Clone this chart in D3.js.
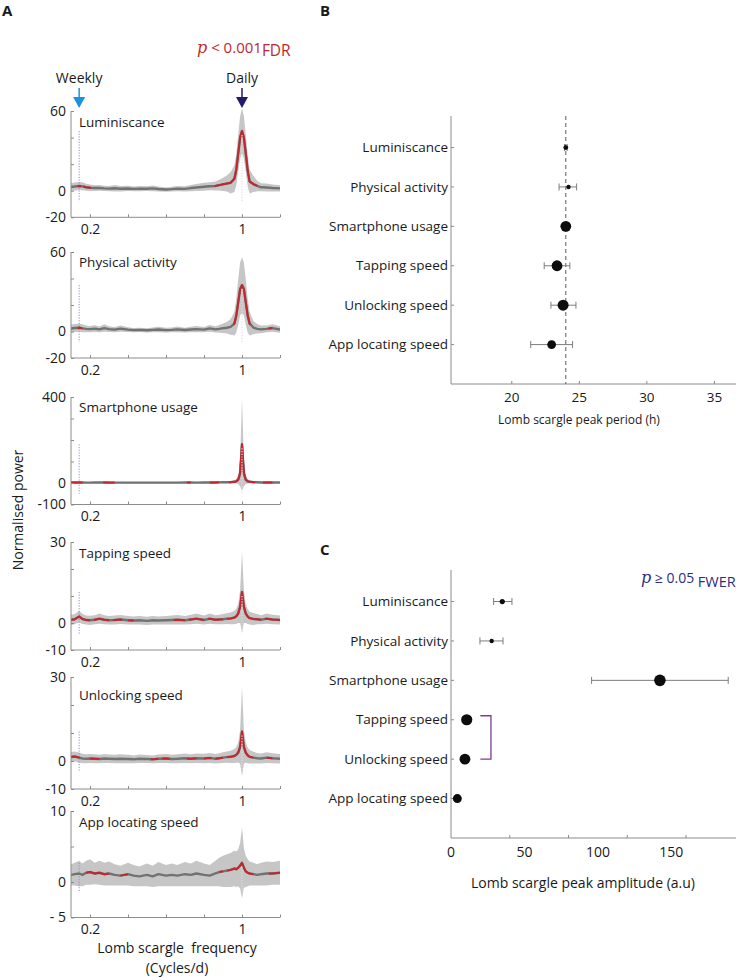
<!DOCTYPE html>
<html><head><meta charset="utf-8">
<script src="https://cdn.jsdelivr.net/npm/d3@7"></script>
<style>body{margin:0;background:#fff} text{font-family:'Open Sans',sans-serif;fill:#1a1a1a;white-space:pre}</style>
</head><body><svg id="c" width="736" height="977"></svg>
<script>
// ---------------- DATA ----------------
const freq = [0.10,0.12,0.143,0.16,0.18,0.20,0.225,0.25,0.275,0.30,0.33,0.36,0.40,0.43,0.46,0.50,0.53,0.56,0.60,0.63,0.66,0.70,0.73,0.76,0.80,0.83,0.86,0.88,0.90,0.92,0.94,0.96,0.97,0.98,0.99,1.00,1.01,1.02,1.03,1.04,1.06,1.08,1.10,1.13,1.16,1.20];

const seriesNames = ["Luminiscance","Physical activity","Smartphone usage","Tapping speed","Unlocking speed","App locating speed"];

const lumMean = [2.8,3.2,3.6,3.3,2.6,2.2,2.0,2.1,1.8,1.6,1.9,1.5,1.7,1.4,1.6,1.5,1.8,1.3,0.9,1.2,1.6,1.4,2.0,2.4,3.0,3.4,3.6,4.2,4.8,5.4,6.0,9,16,28,40,45,40,28,15,7,5,3.6,2.6,2.4,2.0,1.8];
const lumHW   = [3,3,3,3,2.6,2.4,2.2,2.2,2.0,2.0,2.4,2.0,2.0,1.8,2.0,1.8,2.2,1.8,1.6,1.8,2.0,2.0,2.4,2.6,3,3,3.4,4,5,6,8,10,12,14,16,17,16,14,12,9,6,4,3,3,2.6,2.4];
const lumSig  = [[0.135,0.155],[0.165,0.205],[0.855,1.08]];

const actMean = [2.2,2.6,2.8,2.4,2.0,1.8,2.2,1.6,2.6,1.8,1.4,2.2,1.4,1.0,1.2,0.9,1.2,1.5,1.0,1.2,1.6,1.1,1.5,1.8,1.4,2.4,1.6,2.0,2.5,2.8,3.5,6,12,22,32,35,32,22,12,6,3,2,1.6,2.0,2.6,1.5];
const actHW   = [3,3,3,3,2.6,2.4,2.6,2.2,2.8,2.2,2,2.4,1.8,1.6,1.6,1.6,1.8,2,1.8,1.8,2.2,1.8,2,2.4,2,2.6,2.4,3,3.6,4.4,6,9,13,17,20,21,20,17,13,9,5,3.6,3,2.6,2.8,2.4];
const actSig  = [[0.135,0.16],[0.955,1.045],[1.14,1.16]];

const useMean = [2.2,2.0,2.4,2.1,1.9,1.8,2.0,2.2,2.3,1.9,1.8,1.7,1.9,1.6,1.8,1.7,1.6,1.8,1.9,1.7,1.8,2.0,2.1,1.9,2.2,2.4,2.6,3.0,3.4,3.8,4.0,5.5,8,15,45,180,45,15,8,5.5,4,3.2,2.6,2.4,2.6,2.2];
const useHW   = [3.2,3.0,3.4,3.1,2.9,2.8,3.0,3.2,3.1,2.9,2.8,2.7,2.9,2.6,2.8,2.7,2.6,2.8,2.9,2.7,2.8,3.0,3.1,2.9,3.2,3.4,3.6,3.8,4,4.5,5,7,10,20,60,215,60,20,10,7,5,4,3.6,3.4,3.2,3.0];
const useSig  = [[0.10,0.16],[0.27,0.33],[0.71,0.73],[0.83,0.88],[0.93,1.07],[1.11,1.16]];

const tapMean = [1.2,1.4,2.4,1.5,1.1,1.0,1.2,1.6,1.2,1.0,1.1,1.3,1.0,0.9,1.0,0.8,1.0,0.9,1.0,1.1,1.2,1.0,1.3,1.6,1.1,1.6,1.2,1.3,1.4,1.6,1.7,2.0,2.5,3.5,6,11.5,6,3.5,2.4,1.8,1.5,1.4,1.2,1.6,1.3,1.1];
const tapHW   = [1.9,1.9,2.1,1.9,1.7,1.7,1.7,1.9,1.7,1.6,1.7,1.7,1.6,1.5,1.6,1.5,1.6,1.5,1.6,1.7,1.8,1.6,1.8,1.9,1.7,1.9,1.7,1.8,1.9,2.0,2.2,2.5,2.8,3.5,6,15,6,3.5,2.8,2.4,2.2,1.9,1.7,1.9,1.8,1.7];
const tapSig  = [[0.10,0.20],[0.22,0.30],[0.32,0.37],[0.40,0.43],[0.64,0.70],[0.72,0.80],[0.82,0.90],[0.92,1.10],[1.12,1.20]];

const unlMean = [1.4,1.6,1.2,0.9,0.8,0.9,0.8,0.7,0.9,0.8,0.7,0.8,0.7,0.6,0.8,0.7,0.6,0.8,0.9,0.7,0.8,1.0,0.8,1.0,0.9,1.1,0.8,1.0,1.2,1.4,1.5,1.8,2.2,3.0,5,10.5,5,3.0,2.0,1.5,1.2,1.0,0.9,1.2,1.0,0.8];
const unlHW   = [1.8,1.8,1.8,1.7,1.6,1.6,1.6,1.5,1.6,1.5,1.5,1.6,1.5,1.4,1.5,1.4,1.4,1.5,1.6,1.5,1.6,1.7,1.6,1.7,1.7,1.8,1.7,1.8,1.9,2.0,2.2,2.5,2.8,3.5,6,16,6,3.5,2.8,2.4,2.1,1.9,1.8,1.9,1.8,1.7];
const unlSig  = [[0.10,0.145],[0.20,0.25],[0.52,0.56],[0.58,0.62],[0.71,0.76],[0.80,0.84],[0.86,0.90],[0.92,1.06],[1.13,1.16]];

const appMean = [1.0,1.1,1.2,1.0,1.3,1.4,1.2,1.3,1.1,1.2,1.0,0.9,1.1,0.9,0.8,1.0,0.8,1.1,0.9,1.0,0.9,1.1,1.0,1.2,1.0,0.9,1.2,1.4,1.5,1.6,1.7,1.9,1.8,2.0,2.3,2.7,2.0,1.5,1.3,1.2,1.1,1.0,1.1,1.2,1.2,1.3];
const appHW   = [1.5,1.6,1.8,1.6,1.7,1.8,1.5,1.7,1.6,1.7,1.5,1.4,1.6,1.5,1.4,1.6,1.5,1.7,1.5,1.6,1.5,1.7,1.6,1.8,1.6,1.5,1.8,2.0,2.2,2.3,2.4,2.5,2.5,2.6,3.2,5.0,2.8,2.2,1.9,1.7,1.6,1.5,1.6,1.7,1.6,1.7];
const appSig  = [[0.18,0.30],[0.36,0.40],[0.88,0.90],[0.92,1.06],[1.14,1.20]];

const seriesMean = [lumMean, actMean, useMean, tapMean, unlMean, appMean];
const seriesHW   = [lumHW, actHW, useHW, tapHW, unlHW, appHW];
const seriesSig  = [lumSig, actSig, useSig, tapSig, unlSig, appSig];

const yDomains = [[-20,60],[-20,60],[-100,400],[-10,30],[-10,30],[-5,10]];
const yTickValues = [[-20,0,20,40,60],[-20,0,20,40,60],[-100,0,100,200,300,400],[-10,0,10,20,30],[-10,0,10,20,30],[-5,0,5,10]];
const yTickLabels = [["-20","0","","","60"],["-20","0","","","60"],["-100","0","","","","400"],["-10","0","","","30"],["-10","0","","","30"],["- 5","0","","10"]];
const xTickValues = [0.2,0.4,0.6,0.8,1.0,1.2];
const xTickLabels = ["0.2","","","","1",""];
const weeklyFreq = 1/7, dailyFreq = 1;

const periodMean = [24.0,24.2,24.0,23.35,23.8,22.95];
const periodLo   = [23.9,23.5,23.95,22.4,22.9,21.4];
const periodHi   = [24.1,24.8,24.05,24.3,24.75,24.5];
const periodTicks = [20,25,30,35];
const periodRef = 24;

const ampMean = [34.9,27.7,142.2,10.7,9.5,4.3];
const ampLo   = [29.0,19.7,95.7,10.7,9.5,4.3];
const ampHi   = [41.5,35.4,188.7,10.7,9.5,4.3];
const ampTickLabels = [0,50,100,150];
const ampTickMarks = [40,80,120,160];

// ---------------- STYLE / LAYOUT ----------------
const AX = "#8c8c8c";
const BAND = "#c6c6c6", MEAN = "#727272", RED = "#c1272d";
const svg = d3.select("#c");

// Panel A
const xA = d3.scaleLinear().domain([0.1,1.2]).range([71,280]);
const aRanges = [[217.3,111],[358,252],[504.5,397],[650,542],[789,677],[917.5,811]];
const titleBase = [126.5,267,411.5,557.5,699.5,826.5];

svg.append("text").attr("x",2).attr("y",16).attr("font-weight","bold").attr("font-size",15).text("A");
svg.append("text").attr("x",320).attr("y",16).attr("font-weight","bold").attr("font-size",15).text("B");
svg.append("text").attr("x",320).attr("y",555).attr("font-weight","bold").attr("font-size",15).text("C");

// header p-value
const ph = svg.append("text").attr("x",197).attr("y",53).style("fill",RED);
ph.append("tspan").attr("font-family","'DejaVu Serif',serif").attr("font-style","italic").attr("font-size",16).style("fill",RED).text("p");
ph.append("tspan").attr("font-size",15).style("fill",RED).text(" < 0.001");
ph.append("tspan").attr("font-size",15.5).attr("dy",3).style("fill",RED).text("FDR");

// arrows
function arrow(x, col, label){
  svg.append("text").attr("x",x).attr("y",83).attr("text-anchor","middle").attr("font-size",14).text(label);
  svg.append("line").attr("x1",x).attr("x2",x).attr("y1",88).attr("y2",98).attr("stroke",col).attr("stroke-width",1.5);
  svg.append("path").attr("d",`M${x-6},97 L${x+6},97 L${x},108 Z`).attr("fill",col);
}
arrow(xA(weeklyFreq), "#1b93dc", "Weekly");
arrow(xA(dailyFreq), "#241a6b", "Daily");

seriesNames.forEach((name,k)=>{
  const y = d3.scaleLinear().domain(yDomains[k]).range(aRanges[k]);
  const mean = seriesMean[k], hw = seriesHW[k];
  const g = svg.append("g");
  const cid = "clipA"+k;
  svg.append("clipPath").attr("id",cid).append("rect")
     .attr("x",xA.range()[0]).attr("width",xA.range()[1]-xA.range()[0])
     .attr("y",aRanges[k][1]-2).attr("height",aRanges[k][0]-aRanges[k][1]+2);
  const pl = g.append("g").attr("clip-path",`url(#${cid})`);
  const pts = freq.map((f,i)=>({f, m:mean[i], lo:mean[i]-hw[i], hi:mean[i]+hw[i]}));
  pl.append("path").datum(pts).attr("fill",BAND)
    .attr("d", d3.area().x(d=>xA(d.f)).y0(d=>y(d.lo)).y1(d=>y(d.hi)));
  const peak = d3.max(mean);
  const dotBottom = -0.1*(yDomains[k][1]-yDomains[k][0]);
  pl.append("line").attr("x1",xA(weeklyFreq)).attr("x2",xA(weeklyFreq)).attr("y1",y(peak)).attr("y2",y(dotBottom))
    .attr("stroke","#8c8cd2").attr("stroke-width",1).attr("stroke-dasharray","1.2,1.5");
  pl.append("path").datum(pts).attr("fill","none").attr("stroke",MEAN).attr("stroke-width",2.4)
    .attr("stroke-linejoin","round").attr("d", d3.line().x(d=>xA(d.f)).y(d=>y(d.m)));
  const interp = d3.scaleLinear().domain(freq).range(mean);
  seriesSig[k].forEach(([a,b])=>{
    const sp = [[a,interp(a)]];
    freq.forEach((f,i)=>{ if(f>a && f<b) sp.push([f,mean[i]]); });
    sp.push([b,interp(b)]);
    pl.append("path").datum(sp).attr("fill","none").attr("stroke",RED).attr("stroke-width",2)
      .attr("stroke-linejoin","round").attr("d", d3.line().x(d=>xA(d[0])).y(d=>y(d[1])));
  });
  pl.append("line").attr("x1",xA(dailyFreq)).attr("x2",xA(dailyFreq)).attr("y1",y(peak)+4).attr("y2",y(dotBottom))
    .attr("stroke","#dedede").attr("stroke-width",1.2).attr("stroke-dasharray","1.2,1.5");
  const yAxis = d3.axisLeft(y).tickValues(yTickValues[k]).tickSize(-3).tickPadding(5)
    .tickFormat((d,i)=>yTickLabels[k][i]);
  const ga = g.append("g").attr("transform",`translate(${xA.range()[0]},0)`).call(yAxis);
  ga.select(".domain").attr("stroke",AX).attr("d",`M0,${aRanges[k][0]}V${aRanges[k][1]}`);
  ga.selectAll(".tick line").attr("stroke",AX);
  ga.selectAll(".tick text").attr("font-size",14).attr("font-family","'Open Sans',sans-serif").style("fill","#1a1a1a");
  const xAxis = d3.axisBottom(xA).tickValues(xTickValues).tickSize(-3).tickPadding(7)
    .tickFormat((d,i)=>xTickLabels[i]);
  const gx = g.append("g").attr("transform",`translate(0,${aRanges[k][0]})`).call(xAxis);
  gx.select(".domain").attr("stroke",AX).attr("d",`M${xA.range()[0]},0H${xA.range()[1]}`);
  gx.selectAll(".tick line").attr("stroke",AX);
  gx.selectAll(".tick text").attr("font-size",14).attr("font-family","'Open Sans',sans-serif").style("fill","#1a1a1a");
  g.append("text").attr("x",79).attr("y",titleBase[k]).attr("font-size",13.5).text(name);
});

svg.append("text").attr("transform","translate(23,510) rotate(-90)").attr("text-anchor","middle").attr("font-size",14).text("Normalised power");
svg.append("text").attr("x",177).attr("y",953).attr("text-anchor","middle").attr("font-size",14).text("Lomb scargle  frequency");
svg.append("text").attr("x",177).attr("y",973).attr("text-anchor","middle").attr("font-size",14).text("(Cycles/d)");

// Panels B and C
function dotPanel(opts){
  const {x, top, bottom, mean, lo, hi, radii} = opts;
  const y = d3.scaleLinear().domain([0.2,7]).range([top,bottom]);
  const g = svg.append("g");
  g.append("line").attr("x1",451).attr("x2",451).attr("y1",top).attr("y2",bottom).attr("stroke",AX);
  g.append("line").attr("x1",451).attr("x2",736).attr("y1",bottom).attr("y2",bottom).attr("stroke",AX);
  seriesNames.forEach((n,i)=>{
    const yy = y(i+1);
    g.append("line").attr("x1",451).attr("x2",454).attr("y1",yy).attr("y2",yy).attr("stroke",AX);
    g.append("text").attr("x",448).attr("y",yy).attr("dy","0.35em").attr("text-anchor","end").attr("font-size",13.5).text(n);
  });
  if(opts.extra) opts.extra(g,x,y);
  seriesNames.forEach((n,i)=>{
    const yy = y(i+1);
    if(hi[i]-lo[i] > 0.15){
      g.append("line").attr("x1",x(lo[i])).attr("x2",x(hi[i])).attr("y1",yy).attr("y2",yy).attr("stroke","#7d7d7d").attr("stroke-width",1);
      [lo[i],hi[i]].forEach(v=>g.append("line").attr("x1",x(v)).attr("x2",x(v)).attr("y1",yy-3.5).attr("y2",yy+3.5).attr("stroke","#7d7d7d").attr("stroke-width",1));
    }
    g.append("circle").attr("cx",x(mean[i])).attr("cy",yy).attr("r",radii[i]).attr("fill","#0d0d0d");
  });
  return {g,y};
}

const xB = d3.scaleLinear().domain([15.5,36.6]).range([451,736]);
const pB = dotPanel({x:xB, top:116, bottom:384, mean:periodMean, lo:periodLo, hi:periodHi,
  radii:[2.4,2.2,5.4,5.4,5.5,4.4],
  extra:(g,x,y)=>{
    g.append("line").attr("x1",x(periodRef)).attr("x2",x(periodRef)).attr("y1",116).attr("y2",384)
      .attr("stroke","#5a5a5a").attr("stroke-width",1).attr("stroke-dasharray","4,3");
  }});
periodTicks.forEach(t=>{
  pB.g.append("line").attr("x1",xB(t)).attr("x2",xB(t)).attr("y1",384).attr("y2",381).attr("stroke",AX);
  pB.g.append("text").attr("x",xB(t)).attr("y",402).attr("text-anchor","middle").attr("font-size",13.5).text(t);
});
svg.append("text").attr("x",579).attr("y",424).attr("text-anchor","middle").attr("font-size",12).text("Lomb scargle peak period (h)");

const xC = d3.scaleLinear().domain([0,194]).range([451,736]);
const pC = dotPanel({x:xC, top:570, bottom:838, mean:ampMean, lo:ampLo, hi:ampHi,
  radii:[2.6,2.2,5.8,5.6,5.4,4.5]});
ampTickMarks.forEach(t=>{
  pC.g.append("line").attr("x1",xC(t)).attr("x2",xC(t)).attr("y1",838).attr("y2",835).attr("stroke",AX);
});
ampTickLabels.forEach(t=>{
  pC.g.append("text").attr("x",xC(t)).attr("y",857).attr("text-anchor","middle").attr("font-size",14).text(t);
});
svg.append("text").attr("x",583).attr("y",888).attr("text-anchor","middle").attr("font-size",14).text("Lomb scargle peak amplitude (a.u)");
{
  const y1 = pC.y(4)-4, y2 = pC.y(5);
  const xa = xC(20), xb = xC(27.2);
  svg.append("path").attr("d",`M${xa},${y1}H${xb}V${y2}H${xa}`).attr("fill","none").attr("stroke","#7b3a96").attr("stroke-width",1.3);
}
const pw = svg.append("text").attr("x",641).attr("y",583).style("fill","#2c2c86");
pw.append("tspan").attr("font-family","'DejaVu Serif',serif").attr("font-style","italic").attr("font-size",16).style("fill","#2c2c86").text("p");
pw.append("tspan").attr("font-size",14).style("fill","#2c2c86").text(" ≥ 0.05 ");
pw.append("tspan").attr("font-size",14.5).attr("dy",4).style("fill","#2c2c86").text("FWER");
</script></body></html>
